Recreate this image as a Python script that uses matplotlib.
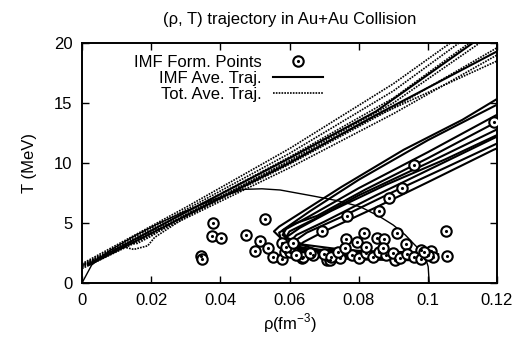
import numpy as np
import matplotlib
matplotlib.use("Agg")
import matplotlib.pyplot as plt
from matplotlib.legend_handler import HandlerTuple

plt.rcParams['font.family'] = ['Liberation Sans', 'DejaVu Sans']
plt.rcParams['mathtext.fontset'] = 'custom'
plt.rcParams['mathtext.rm'] = 'Liberation Sans'

# axis ticks
rho_ticks = [0, 0.02, 0.04, 0.06, 0.08, 0.1, 0.12]
rho_labels = ['0', '0.02', '0.04', '0.06', '0.08', '0.1', '0.12']
T_ticks = [0, 5, 10, 15, 20]

# coexistence boundary
dome_rho = [0, 0.0028, 0.008, 0.015, 0.022, 0.03, 0.038, 0.0466, 0.052, 0.0573,
            0.0668, 0.074, 0.0804, 0.086, 0.090, 0.0935, 0.0958, 0.0975,
            0.0992, 0.1001, 0.1004]
dome_T = [0, 1.5, 2.7, 3.9, 4.95, 6.0, 6.95, 7.8, 7.85, 7.75,
          7.25, 6.85, 6.36, 5.55, 4.83, 4.0, 3.3, 2.8,
          2.2, 1.36, 0.0]

# IMF formation points
form_rho = [0.0343, 0.0346, 0.0375, 0.0378, 0.0403, 0.0473, 0.0499, 0.0515, 0.0528,
            0.0538, 0.0553, 0.0578, 0.0587, 0.0578, 0.0635, 0.0640, 0.0669, 0.0693,
            0.0708, 0.0717, 0.0746, 0.0763, 0.0767, 0.0794, 0.0816, 0.0852, 0.0873,
            0.0860, 0.0887, 0.0905, 0.0912, 0.0926, 0.0936, 0.0959, 0.0980, 0.1008,
            0.1016, 0.1053, 0.1056, 0.1190,
            0.060, 0.062, 0.066, 0.070, 0.072, 0.074, 0.078, 0.080, 0.082, 0.084,
            0.086, 0.088, 0.090, 0.092, 0.094, 0.096, 0.098, 0.100, 0.059, 0.061,
            0.076, 0.082, 0.087, 0.099]
form_T = [2.25, 1.98, 3.94, 4.97, 3.75, 4.0, 2.69, 3.5, 5.31,
          2.9, 2.19, 1.98, 2.61, 3.31, 2.06, 2.19, 2.3, 4.36,
          1.92, 1.92, 2.06, 3.63, 5.61, 3.44, 4.14, 3.72, 3.64,
          5.97, 7.1, 1.92, 4.19, 7.92, 3.29, 9.87, 2.75, 2.69,
          2.14, 4.33, 2.25, 13.4,
          2.6, 2.3, 2.5, 2.4, 2.2, 2.6, 2.3, 2.1, 2.5, 2.2,
          2.6, 2.3, 2.5, 2.1, 2.4, 2.2, 2.0, 2.3, 3.0, 3.3,
          2.9, 3.0, 2.9, 2.6]

# total average trajectories (rho, T)
tot_1 = [(0, 1.6), (0.03, 6.3), (0.06, 11.2), (0.09, 16.6), (0.1065, 20.0)]
tot_2 = [(0, 1.5), (0.03, 6.1), (0.06, 10.8), (0.09, 16.0), (0.109, 20.0)]
tot_3 = [(0, 1.4), (0.03, 5.9), (0.06, 10.5), (0.09, 15.4), (0.112, 20.0)]
tot_4 = [(0, 1.3), (0.03, 5.7), (0.06, 10.2), (0.09, 15.0), (0.115, 20.0)]
tot_5 = [(0, 1.5), (0.008, 2.6), (0.012, 3.0), (0.015, 2.8), (0.019, 3.1), (0.021, 3.8),
         (0.03, 5.5), (0.06, 9.9), (0.09, 14.6), (0.12, 19.6)]
tot_6 = [(0, 1.2), (0.03, 5.4), (0.06, 9.6), (0.09, 14.1), (0.12, 19.0)]
tot_7 = [(0, 1.4), (0.012, 3.2), (0.016, 3.3), (0.02, 3.9), (0.03, 5.7), (0.06, 10.1),
         (0.085, 13.9), (0.12, 18.5)]

# IMF average trajectories (rho, T)
imf_u1 = [(0.002, 1.6), (0.03, 5.9), (0.06, 10.4), (0.085, 14.3), (0.113, 20.0)]
imf_u2 = [(0.002, 1.5), (0.03, 5.6), (0.06, 10.0), (0.085, 14.0), (0.12, 19.3)]
imf_a = [(0.125, 16.2), (0.11, 13.6), (0.093, 11.1), (0.075, 8.0), (0.063, 5.8),
         (0.057, 4.7), (0.0555, 4.3), (0.058, 3.6), (0.062, 3.0), (0.07, 2.7),
         (0.08, 2.5), (0.09, 2.4), (0.1, 2.3), (0.103, 2.4)]
imf_b = [(0.125, 15.6), (0.10, 11.9), (0.08, 8.6), (0.066, 6.0), (0.058, 4.4),
         (0.059, 3.8), (0.064, 3.2), (0.072, 2.9), (0.082, 2.6), (0.092, 2.5), (0.1, 2.4)]
imf_c = [(0.125, 14.8), (0.10, 10.9), (0.08, 7.9), (0.066, 5.6), (0.059, 4.5),
         (0.058, 4.0), (0.061, 3.4), (0.07, 2.6), (0.08, 2.3), (0.09, 2.2), (0.1, 2.1)]
imf_d = [(0.125, 13.5), (0.10, 10.0), (0.08, 7.3), (0.067, 5.3), (0.06, 4.3),
         (0.059, 3.8), (0.063, 3.0), (0.072, 2.4), (0.085, 2.2), (0.095, 2.1), (0.101, 2.1)]
imf_e = [(0.125, 12.9), (0.10, 9.4), (0.085, 7.3), (0.07, 5.1), (0.062, 4.0),
         (0.06, 3.4), (0.065, 2.7), (0.075, 2.3), (0.085, 2.1), (0.1, 2.0)]
imf_f = [(0.125, 12.3), (0.105, 9.6), (0.09, 7.6), (0.075, 5.5), (0.065, 4.2),
         (0.06, 3.2), (0.064, 2.6), (0.075, 2.2), (0.09, 2.0), (0.1, 1.95)]
imf_g = [(0.125, 11.8), (0.119, 11.1), (0.10, 8.4), (0.085, 6.3), (0.07, 4.3),
         (0.064, 3.4), (0.062, 2.9), (0.068, 2.5), (0.08, 2.3), (0.095, 2.2), (0.101, 2.3)]
imf_h = [(0.125, 14.2), (0.10, 10.4), (0.082, 7.8), (0.068, 5.6), (0.061, 4.9),
         (0.057, 4.2), (0.058, 3.1), (0.066, 2.8), (0.078, 2.7), (0.09, 2.6), (0.102, 2.5)]
imf_i = [(0.125, 13.0), (0.105, 10.3), (0.088, 8.2), (0.072, 6.0), (0.063, 4.6),
         (0.0575, 3.5), (0.06, 2.5), (0.07, 2.1), (0.082, 1.95), (0.095, 1.9), (0.1, 2.0)]

tot_trajs = [tot_1, tot_2, tot_3, tot_4, tot_5, tot_6, tot_7]
imf_trajs = [imf_u1, imf_u2, imf_a, imf_b, imf_c, imf_d, imf_e, imf_f, imf_g,
             imf_h, imf_i]

fig = plt.figure(figsize=(5.13, 3.39), dpi=100)
ax = fig.add_axes([82/513, 1 - 283/339, 415/513, 240/339])

ax.plot(dome_rho, dome_T, color='k', lw=1.0)

for tr in tot_trajs:
    r, t = zip(*tr)
    l_tot, = ax.plot(r, t, color='k', lw=1.2, ls=(0, (1.0, 0.7)))
for tr in imf_trajs:
    r, t = zip(*tr)
    l_imf, = ax.plot(r, t, color='k', lw=1.5)

circ, = ax.plot(form_rho, form_T, 'o', mfc='white', mec='k', ms=7.5, mew=1.5, zorder=3)
dot, = ax.plot(form_rho, form_T, '.', color='k', ms=2.5, zorder=4)

ax.set_xlim(0, 0.12)
ax.set_ylim(0, 20)
ax.set_xticks(rho_ticks)
ax.set_xticklabels(rho_labels)
ax.set_yticks(T_ticks)
ax.tick_params(direction='in', length=5, width=1.0, top=True, right=True,
               labelsize=12, pad=7)
for s in ax.spines.values():
    s.set_linewidth(1.4)

ax.set_title('(ρ, T) trajectory in Au+Au Collision', fontsize=12, pad=14)
ax.set_xlabel('ρ(fm$^{-3}$)', fontsize=12, labelpad=3)
ax.set_ylabel('T (MeV)', fontsize=12, labelpad=12)

ax.legend([(circ, dot), l_imf, l_tot],
          ['IMF Form. Points', 'IMF Ave. Traj.', 'Tot. Ave. Traj.'],
          handler_map={tuple: HandlerTuple(ndivide=1, pad=0)},
          loc='upper right', bbox_to_anchor=(0.581, 0.95), frameon=False,
          markerfirst=False, handlelength=3.0, handletextpad=0.7,
          labelspacing=0.05, borderpad=0, borderaxespad=0, fontsize=12)

fig.savefig('out.png', dpi=100)
